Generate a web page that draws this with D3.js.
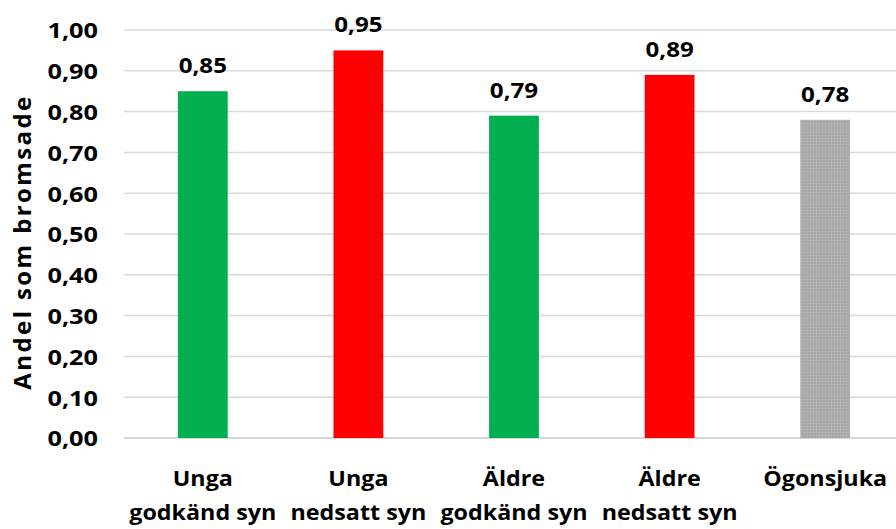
<!DOCTYPE html>
<html>
<head>
<meta charset="utf-8">
<script src="https://cdn.jsdelivr.net/npm/d3@7"></script>
<style>
  html, body { margin: 0; padding: 0; background: #fff; }
  svg { display: block; font-family: "Open Sans", "Noto Sans", sans-serif; font-weight: bold; }
</style>
</head>
<body>
<svg id="chart" width="896" height="529"></svg>
<script>
// Share of drivers who braked, per group
const categories = [
  ["Unga", "godkänd syn"],
  ["Unga", "nedsatt syn"],
  ["Äldre", "godkänd syn"],
  ["Äldre", "nedsatt syn"],
  ["Ögonsjuka"]
];
const values = [0.85, 0.95, 0.79, 0.89, 0.78];
const barColors = ["#00b050", "#ff0000", "#00b050", "#ff0000", "#a6a6a6"];
const yTicks = [0, 0.1, 0.2, 0.3, 0.4, 0.5, 0.6, 0.7, 0.8, 0.9, 1.0];
const yTitle = "Andel som bromsade";

const svg = d3.select("#chart");
const fmt = v => v.toFixed(2).replace(".", ",");
const WIDEN = 1.15;     // horizontal widening of numeric labels
const WIDEN_CAT = 1.06; // horizontal widening of category labels

const x = d3.scaleBand()
  .domain(d3.range(values.length))
  .range([125, 903])
  .paddingInner(0.68)
  .paddingOuter(0.34);

const y = d3.scaleLinear().domain([0, 1]).range([438, 30]);

// Dotted texture for the grey bar
const defs = svg.append("defs");
const pat = defs.append("pattern")
  .attr("id", "dots").attr("patternUnits", "userSpaceOnUse")
  .attr("width", 3).attr("height", 3);
pat.append("rect").attr("width", 3).attr("height", 3).attr("fill", "#a6a6a6");
pat.append("rect").attr("width", 1).attr("height", 3).attr("fill", "#b2b2b2");
pat.append("rect").attr("width", 3).attr("height", 1).attr("fill", "#b2b2b2");

// Gridlines
svg.append("g")
  .selectAll("line")
  .data(yTicks)
  .join("line")
  .attr("x1", 124).attr("x2", 896)
  .attr("y1", d => y(d)).attr("y2", d => y(d))
  .attr("stroke", d => d === 0 ? "#c8c8c8" : "#d9d9d9")
  .attr("stroke-width", 1.5);

// Y axis labels
const yAxis = d3.axisLeft(y).tickValues(yTicks).tickFormat(fmt).tickSize(0).tickPadding(0);
const gy = svg.append("g").attr("transform", "translate(98,0)").call(yAxis);
gy.select(".domain").remove();
gy.selectAll("text")
  .attr("font-size", 22)
  .attr("font-family", "\"Open Sans\", sans-serif")
  .attr("font-weight", "bold")
  .attr("fill", "#000")
  .attr("x", 0)
  .attr("dy", "0.36em")
  .attr("transform", `scale(${WIDEN},1)`);

// Axis title
svg.append("text")
  .attr("transform", `translate(31,${(y(0) + y(1)) / 2 + 8}) rotate(-90)`)
  .attr("text-anchor", "middle")
  .attr("font-size", 24)
  .attr("letter-spacing", 2.4)
  .attr("fill", "#000")
  .text(yTitle);

// Bars
svg.append("g")
  .selectAll("rect")
  .data(values)
  .join("rect")
  .attr("x", (d, i) => x(i))
  .attr("width", x.bandwidth())
  .attr("y", d => y(d))
  .attr("height", d => y(0) - y(d))
  .attr("fill", (d, i) => i === 4 ? "url(#dots)" : barColors[i]);

// Value labels
svg.append("g")
  .selectAll("text")
  .data(values)
  .join("text")
  .attr("transform", (d, i) => `translate(${x(i) + x.bandwidth() / 2},${y(d) - 18}) scale(${WIDEN},1)`)
  .attr("text-anchor", "middle")
  .attr("font-size", 21)
  .attr("fill", "#000")
  .text(fmt);

// Category labels
const cats = svg.append("g")
  .selectAll("text")
  .data(categories)
  .join("text")
  .attr("transform", (d, i) => `translate(${x(i) + x.bandwidth() / 2},486) scale(${WIDEN_CAT},1)`)
  .attr("text-anchor", "middle")
  .attr("font-size", 22)
  .attr("fill", "#000");
cats.selectAll("tspan")
  .data(d => d)
  .join("tspan")
  .attr("x", 0)
  .attr("dy", (d, i) => i === 0 ? 0 : 34)
  .text(d => d);
</script>
</body>
</html>
